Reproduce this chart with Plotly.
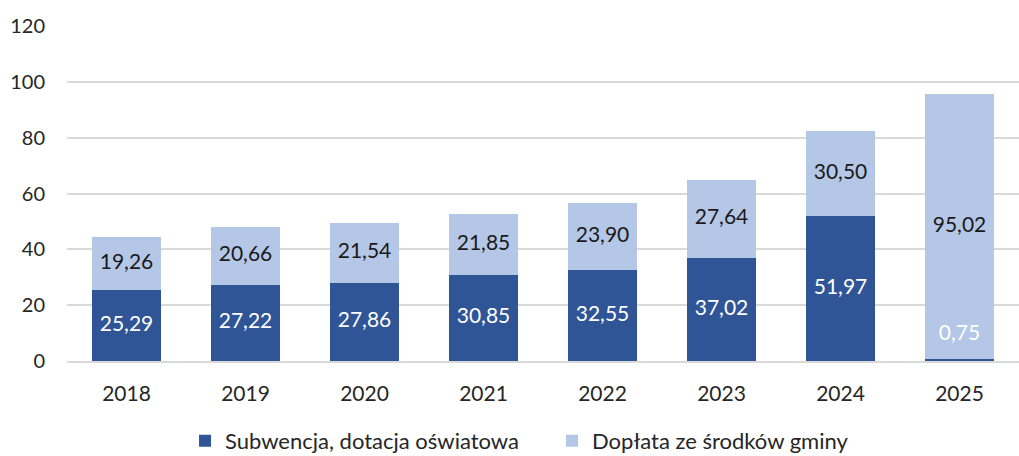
import plotly.graph_objects as go

years = ["2018", "2019", "2020", "2021", "2022", "2023", "2024", "2025"]
subwencja = [25.29, 27.22, 27.86, 30.85, 32.55, 37.02, 51.97, 0.75]
doplata = [19.26, 20.66, 21.54, 21.85, 23.90, 27.64, 30.50, 95.02]
y_ticks = [0, 20, 40, 60, 80, 100, 120]

name_a = "Subwencja, dotacja oświatowa"
name_b = "Dopłata ze środków gminy"

def fmt(v):
    return f"{v:.2f}".replace(".", ",")

FONT = "Lato"
LABEL_MIN_Y = 9.3  # minimum label height for very small segments

fig = go.Figure()
fig.add_trace(go.Bar(x=years, y=subwencja, name=name_a, marker_color="#2F5597",
                     marker_line_width=0))
fig.add_trace(go.Bar(x=years, y=doplata, name=name_b, marker_color="#B4C7E7",
                     marker_line_width=0))

fig.add_trace(go.Scatter(
    x=years, y=[max(a / 2, LABEL_MIN_Y) for a in subwencja],
    text=[fmt(a) for a in subwencja], mode="text", showlegend=False,
    textfont=dict(color="white", size=21, family=FONT), hoverinfo="skip",
    cliponaxis=False))
fig.add_trace(go.Scatter(
    x=years, y=[a + b / 2 for a, b in zip(subwencja, doplata)],
    text=[fmt(b) for b in doplata], mode="text", showlegend=False,
    textfont=dict(color="#1a1a1a", size=21, family=FONT), hoverinfo="skip",
    cliponaxis=False))

fig.update_layout(
    width=1019, height=456,
    margin=dict(l=67, r=0, t=26, b=95),
    barmode="stack", bargap=0.42,
    plot_bgcolor="white", paper_bgcolor="white",
    font=dict(family=FONT, size=20, color="#262626"),
    legend=dict(orientation="h", x=0.124, xanchor="left",
                yref="container", y=0.033, yanchor="middle",
                font=dict(size=22, color="#262626"), traceorder="normal",
                entrywidth=322, entrywidthmode="pixels"),
    xaxis=dict(showline=True, linecolor="#D9D9D9", linewidth=1.5, ticks="",
               tickfont=dict(size=21), ticklabelstandoff=13, range=[-0.5, 7.5],
               automargin=False),
    yaxis=dict(range=[0, 120], tickvals=y_ticks, showgrid=True, gridcolor="#D9D9D9",
               gridwidth=1.5, zeroline=False, tickfont=dict(size=20),
               ticklabelstandoff=21, automargin=False),
)
fig.write_html("out.html", config={"displayModeBar": False},
               post_script="document.body.style.margin='0px';")
